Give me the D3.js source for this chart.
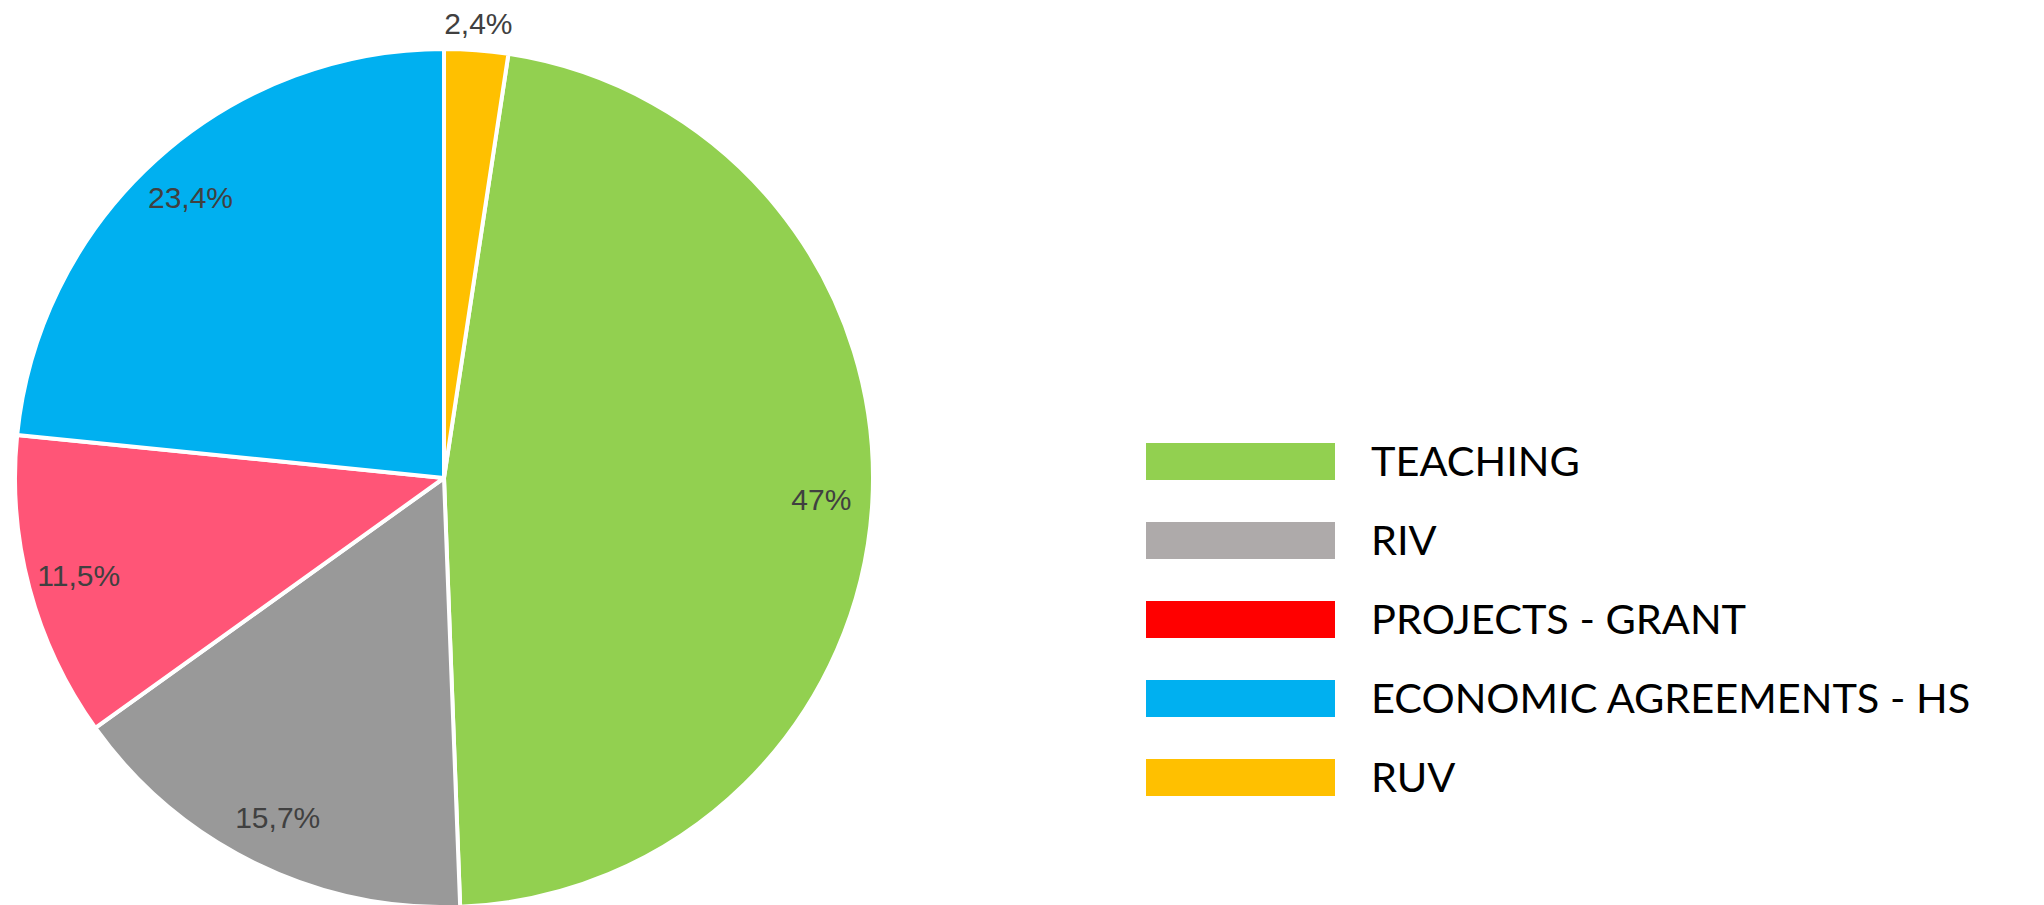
<!DOCTYPE html>
<html>
<head>
<meta charset="utf-8">
<script src="https://cdn.jsdelivr.net/npm/d3@7"></script>
<style>
  html, body { margin: 0; padding: 0; background: #fff; }
  svg { display: block; }
</style>
</head>
<body>
<svg id="chart" width="2044" height="905"></svg>
<script>
const categories = ["TEACHING", "RIV", "PROJECTS - GRANT", "ECONOMIC AGREEMENTS - HS", "RUV"];
const values = [47, 15.7, 11.5, 23.4, 2.4];
const valueLabels = ["47%", "15,7%", "11,5%", "23,4%", "2,4%"];
const sliceColors = ["#92D050", "#999999", "#FF5577", "#00B0F0", "#FFC000"];
const legendColors = ["#92D050", "#AEAAAA", "#FF0000", "#00B0F0", "#FFC000"];

const svg = d3.select("#chart");
const cx = 444, cy = 478, radius = 429;
const total = d3.sum(values);
const offset = values[values.length - 1] / total * 2 * Math.PI;

const data = categories.map((c, i) => ({ name: c, value: values[i], label: valueLabels[i], color: sliceColors[i] }));

const pie = d3.pie().sort(null).value(d => d.value)
  .startAngle(offset).endAngle(offset + 2 * Math.PI);
const arcs = pie(data);
const arc = d3.arc().innerRadius(0).outerRadius(radius);

const g = svg.append("g").attr("transform", `translate(${cx},${cy})`);
g.selectAll("path.slice").data(arcs).join("path")
  .attr("class", "slice")
  .attr("d", arc)
  .attr("fill", d => d.data.color)
  .attr("stroke", "#fff")
  .attr("stroke-width", 4)
  .attr("stroke-linejoin", "round");

const fontSize = 30;
function labelDist(d) {
  return d.value / total < 0.05 ? radius + 27 : 378;
}
g.selectAll("text.val").data(arcs).join("text")
  .attr("class", "val")
  .attr("text-anchor", "middle")
  .attr("font-family", "'Liberation Sans', Arial, sans-serif")
  .attr("font-size", fontSize)
  .attr("fill", "#404040")
  .attr("x", d => Math.sin((d.startAngle + d.endAngle) / 2) * labelDist(d))
  .attr("y", d => -Math.cos((d.startAngle + d.endAngle) / 2) * labelDist(d) + fontSize * 0.36)
  .text(d => d.data.label);

// Legend
const legendY = d3.scalePoint().domain(categories).range([443, 759]);
const lg = svg.append("g");
const items = lg.selectAll("g.item").data(categories).join("g").attr("class", "item");
items.append("rect")
  .attr("x", 1146)
  .attr("y", d => legendY(d))
  .attr("width", 189)
  .attr("height", 37)
  .attr("fill", (d, i) => legendColors[i]);
items.append("text")
  .attr("x", 1371)
  .attr("y", d => legendY(d) + 33)
  .attr("font-family", "Lato, 'Open Sans', sans-serif")
  .attr("font-size", 41.5)
  .attr("fill", "#000")
  .text(d => d);
</script>
</body>
</html>
